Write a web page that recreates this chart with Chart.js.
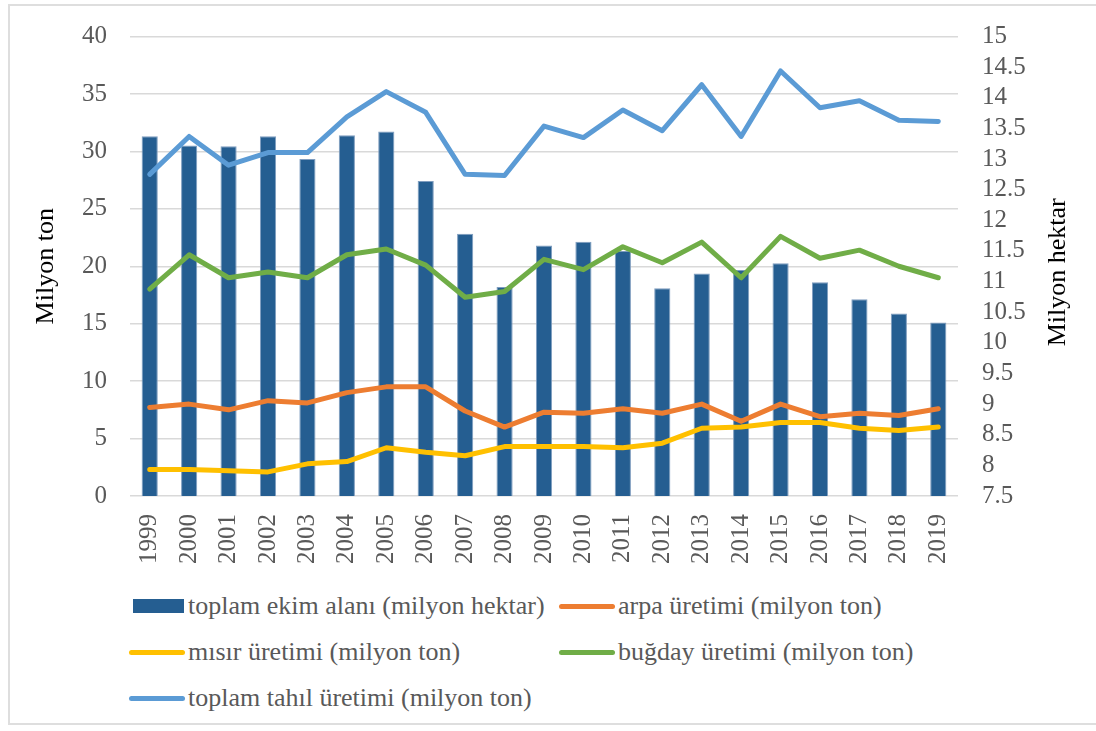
<!DOCTYPE html>
<html>
<head>
<meta charset="utf-8">
<script src="https://cdn.jsdelivr.net/npm/chart.js@4.4.0/dist/chart.umd.min.js"></script>
<style>
	body { margin: 0; background: #fff; }
	#frame { position: absolute; left: 8px; top: 4px; width: 1100px; height: 721px; border: 2px solid #dedede; box-sizing: border-box; }
	#chartWrap { position: absolute; left: 0; top: 0; width: 1096px; height: 580px; }
	#legend { position: absolute; left: 129px; top: 583px; display: grid; grid-template-columns: 430px auto; grid-auto-rows: 46px; font-family: 'Liberation Serif', 'Times New Roman', serif; font-size: 26px; color: #595959; }
	#legend .item { display: flex; align-items: center; white-space: nowrap; }
	#legend .sw { width: 56px; height: 14px; position: relative; margin-right: 3px; }
	#legend .sw span { position: absolute; display: block; }
</style>
</head>
<body>
<div id="frame"></div>
<div id="chartWrap"><canvas id="comboChart" width="1096" height="580"></canvas></div>
<div id="legend"></div>

<script>
var years = ['1999','2000','2001','2002','2003','2004','2005','2006','2007','2008','2009','2010','2011','2012','2013','2014','2015','2016','2017','2018','2019'];
var ekimAlani = [13.37, 13.22, 13.21, 13.37, 13.0, 13.39, 13.45, 12.64, 11.78, 10.91, 11.59, 11.65, 11.5, 10.89, 11.13, 11.19, 11.3, 10.99, 10.71, 10.48, 10.33];
var arpa = [7.7, 8.0, 7.5, 8.3, 8.1, 9.0, 9.5, 9.5, 7.4, 6.0, 7.3, 7.2, 7.6, 7.2, 8.0, 6.5, 8.0, 6.9, 7.2, 7.0, 7.6];
var misir = [2.3, 2.3, 2.2, 2.1, 2.8, 3.0, 4.2, 3.8, 3.5, 4.3, 4.3, 4.3, 4.2, 4.6, 5.9, 6.0, 6.4, 6.4, 5.9, 5.7, 6.0];
var bugday = [18.0, 21.0, 19.0, 19.5, 19.0, 21.0, 21.5, 20.1, 17.3, 17.8, 20.6, 19.7, 21.7, 20.3, 22.1, 19.0, 22.6, 20.7, 21.4, 20.0, 19.0];
var tahil = [28.0, 31.3, 28.8, 29.9, 29.9, 33.0, 35.2, 33.4, 28.0, 27.9, 32.2, 31.2, 33.6, 31.8, 35.8, 31.3, 37.0, 33.8, 34.4, 32.7, 32.6];
var rightTitle = 'Milyon hektar';

var serif = "'Liberation Serif', 'Times New Roman', serif";
var tickColor = '#595959';
var gridColor = '#d9d9d9';

var lineDs = function(label, data, color) {
	return {
		type: 'line',
		label: label,
		data: data,
		yAxisID: 'yTon',
		borderColor: color,
		backgroundColor: color,
		borderWidth: 5,
		pointRadius: 0,
		tension: 0,
		borderJoinStyle: 'round',
		borderCapStyle: 'round',
		order: 0
	};
};

// right axis title reads bottom to top, like the left one
var rightTitlePlugin = {
	id: 'rightTitle',
	afterDraw: function(chart) {
		var s = chart.scales.yHa;
		var c = chart.ctx;
		c.save();
		c.translate(1058, (s.top + s.bottom) / 2 + 6);
		c.rotate(-Math.PI / 2);
		c.font = '26px ' + serif;
		c.fillStyle = '#000';
		c.textAlign = 'center';
		c.textBaseline = 'middle';
		c.fillText(rightTitle, 0, 0);
		c.restore();
	}
};

var comboChart;
var handleRenderChart = function() {
	Chart.defaults.font.family = serif;
	Chart.defaults.color = tickColor;

	var ctx = document.getElementById('comboChart');
	comboChart = new Chart(ctx, {
		type: 'bar',
		data: {
			labels: years,
			datasets: [{
				label: 'toplam ekim alanı (milyon hektar)',
				data: ekimAlani,
				yAxisID: 'yHa',
				backgroundColor: '#255e91',
				borderColor: '#7f9dbf',
				borderWidth: 1,
				categoryPercentage: 1,
				barPercentage: 0.41,
				order: 1
			},
				lineDs('arpa üretimi (milyon ton)', arpa, '#ed7d31'),
				lineDs('mısır üretimi (milyon ton)', misir, '#ffc000'),
				lineDs('buğday üretimi (milyon ton)', bugday, '#70ad47'),
				lineDs('toplam tahıl üretimi (milyon ton)', tahil, '#5b9bd5')
			]
		},
		options: {
			responsive: false,
			devicePixelRatio: 1,
			animation: false,
			layout: { padding: { top: 33, left: 0, right: 0, bottom: 0 } },
			plugins: {
				legend: { display: false },
				tooltip: { enabled: false }
			},
			scales: {
				x: {
					grid: { display: false, drawTicks: false },
					border: { display: false },
					ticks: {
						autoSkip: false,
						minRotation: 90,
						maxRotation: 90,
						padding: 18,
						color: tickColor,
						font: { size: 25, family: serif }
					},
					afterFit: function(s) { s.height = 84; }
				},
				yTon: {
					position: 'left',
					min: 0,
					max: 40,
					grid: { color: gridColor, lineWidth: 1.5, drawTicks: false },
					border: { display: false },
					ticks: {
						stepSize: 5,
						autoSkip: false,
						padding: 23,
						color: tickColor,
						font: { size: 25, family: serif, lineHeight: 1 }
					},
					title: {
						display: true,
						text: 'Milyon ton',
						color: '#000',
						padding: { top: 31, bottom: 0 },
						font: { size: 26, family: serif }
					},
					afterFit: function(s) { s.width = 130; }
				},
				yHa: {
					position: 'right',
					min: 7.5,
					max: 15,
					grid: { display: false, drawTicks: false },
					border: { display: false },
					ticks: {
						stepSize: 0.5,
						autoSkip: false,
						padding: 24,
						color: tickColor,
						font: { size: 25, family: serif, lineHeight: 1 },
						callback: function(v) { return String(Math.round(v * 10) / 10); }
					},
					afterFit: function(s) { s.width = 138; }
				}
			}
		},
		plugins: [rightTitlePlugin]
	});
};

/* Legend, two columns like the original
------------------------------------------------ */
var handleRenderLegend = function() {
	var box = document.getElementById('legend');
	comboChart.data.datasets.forEach(function(ds) {
		var item = document.createElement('div');
		item.className = 'item';
		var sw = document.createElement('div');
		sw.className = 'sw';
		var mark = document.createElement('span');
		if (ds.type === 'line') {
			mark.style.cssText = 'left:0;top:4.5px;width:56px;height:5px;border-radius:3px;background:' + ds.borderColor;
		} else {
			mark.style.cssText = 'left:4px;top:0;width:51px;height:14px;background:' + ds.backgroundColor;
		}
		sw.appendChild(mark);
		item.appendChild(sw);
		var txt = document.createElement('span');
		txt.textContent = ds.label;
		item.appendChild(txt);
		box.appendChild(item);
	});
};

handleRenderChart();
handleRenderLegend();
</script>
</body>
</html>
